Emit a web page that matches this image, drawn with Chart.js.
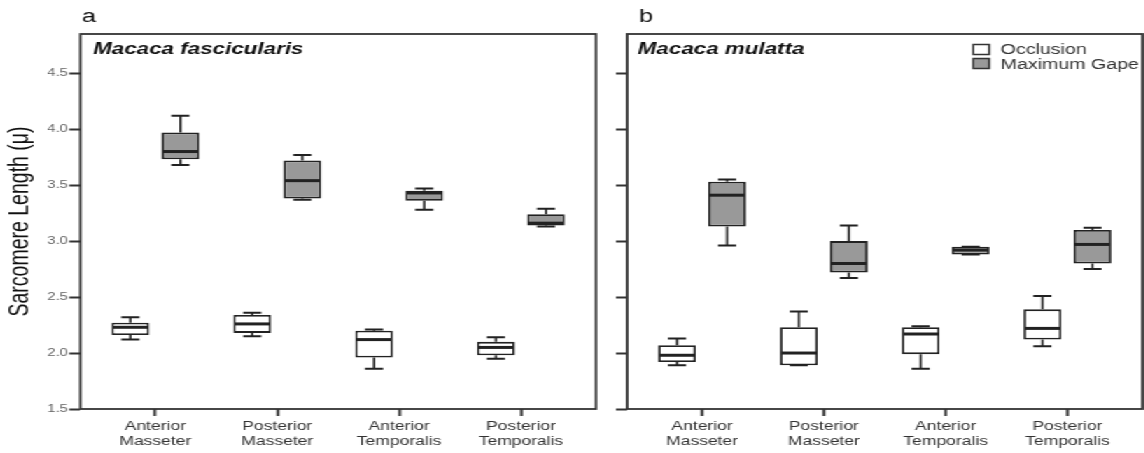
<!DOCTYPE html>
<html>
<head>
<meta charset="utf-8">
<script src="https://cdn.jsdelivr.net/npm/chart.js@4.4.1/dist/chart.umd.min.js"></script>
<style>
html, body { margin:0; padding:0; background:#fff; overflow:hidden; }
/* the source figure is stretched sideways, so draw narrow and scale by 1.4 */
#wrap { position:absolute; left:0; top:0; width:817px; height:453px; display:flex;
        transform:scaleX(1.4); transform-origin:0 0; }
canvas { display:block; }
</style>
</head>
<body>
<div id="wrap">
  <canvas id="chartA" width="436" height="453"></canvas>
  <canvas id="chartB" width="381" height="453"></canvas>
</div>
<script>
const muscles = [['Anterior','Masseter'], ['Posterior','Masseter'], ['Anterior','Temporalis'], ['Posterior','Temporalis']];
const seriesNames = ['Occlusion', 'Maximum Gape'];

// [min, q1, median, q3, max] per muscle
const fascOcclusion = [[2.12,2.16,2.23,2.27,2.32], [2.15,2.18,2.26,2.34,2.36], [1.86,1.96,2.12,2.20,2.21], [1.95,1.98,2.05,2.10,2.14]];
const fascGape      = [[3.68,3.73,3.80,3.97,4.12], [3.37,3.38,3.54,3.72,3.77], [3.28,3.36,3.43,3.45,3.47], [3.13,3.14,3.16,3.24,3.29]];
const mulOcclusion  = [[1.89,1.92,1.98,2.07,2.13], [1.89,1.89,2.00,2.23,2.37], [1.86,1.99,2.17,2.23,2.24], [2.06,2.12,2.22,2.39,2.51]];
const mulGape       = [[2.96,3.13,3.41,3.53,3.55], [2.67,2.72,2.80,3.00,3.14], [2.88,2.88,2.92,2.95,2.95], [2.75,2.80,2.97,3.10,3.12]];

const FONT = "'Liberation Sans', Arial, sans-serif";
const INK = '#222';
const GAPE_FILL = '#999';

const boxPlot = {
  id: 'boxPlot',
  afterDatasetsDraw(chart) {
    const ctx = chart.ctx, y = chart.scales.y;
    ctx.save();
    ctx.strokeStyle = INK;
    chart.data.datasets.forEach((ds, d) => {
      chart.getDatasetMeta(d).data.forEach((bar, i) => {
        const [lo, q1, med, q3, hi] = ds.stats[i];
        const half = bar.width / 2, cap = bar.width * 0.24;
        const yLo = y.getPixelForValue(lo), yHi = y.getPixelForValue(hi);
        ctx.lineWidth = 1.6;
        ctx.beginPath();
        ctx.moveTo(bar.x, y.getPixelForValue(q3)); ctx.lineTo(bar.x, yHi);
        ctx.moveTo(bar.x, y.getPixelForValue(q1)); ctx.lineTo(bar.x, yLo);
        ctx.stroke();
        ctx.lineWidth = 2;
        ctx.beginPath();
        ctx.moveTo(bar.x - cap, yHi); ctx.lineTo(bar.x + cap, yHi);
        ctx.moveTo(bar.x - cap, yLo); ctx.lineTo(bar.x + cap, yLo);
        ctx.stroke();
        ctx.lineWidth = 3;
        const yMed = y.getPixelForValue(med);
        ctx.beginPath();
        ctx.moveTo(bar.x - half + 1, yMed); ctx.lineTo(bar.x + half - 1, yMed);
        ctx.stroke();
      });
    });
    ctx.restore();
  },
  afterDraw(chart, args, opts) {
    const ctx = chart.ctx, a = chart.chartArea;
    ctx.save();
    ctx.strokeStyle = '#333';
    ctx.lineWidth = 1.8;
    ctx.strokeRect(a.left, a.top, a.right - a.left, a.bottom - a.top);

    ctx.fillStyle = '#111';
    ctx.textBaseline = 'alphabetic';
    ctx.font = '18px ' + FONT;
    ctx.fillText(opts.letter, a.left + opts.letterDx, 22);
    ctx.font = 'italic bold 16px ' + FONT;
    ctx.fillText(opts.species, a.left + opts.speciesDx, 54);

    if (opts.legend) {
      const x0 = a.right - 120.8;
      ctx.font = '14px ' + FONT;
      ctx.lineWidth = 1.5;
      [['#fff', 44.5, 53.7], [GAPE_FILL, 58.5, 69.3]].forEach(([fill, top, base], k) => {
        ctx.fillStyle = fill;
        ctx.fillRect(x0, top, 11.4, 10);
        ctx.strokeStyle = '#333';
        ctx.strokeRect(x0, top, 11.4, 10);
        ctx.fillStyle = '#333';
        ctx.fillText(seriesNames[k], x0 + 19.6, base);
      });
    }
    ctx.restore();
  }
};

function makeChart(id, occ, gape, cfg) {
  const toBars = stats => stats.map((s, i) => ({ x: i, y: [s[1], s[3]] }));
  const boxStyle = { borderColor: INK, borderWidth: 1.8, borderSkipped: false,
                     categoryPercentage: 0.822, barPercentage: 0.754 };
  return new Chart(document.getElementById(id), {
    type: 'bar',
    data: {
      datasets: [
        { label: seriesNames[0], data: toBars(occ), stats: occ, backgroundColor: '#fff', ...boxStyle },
        { label: seriesNames[1], data: toBars(gape), stats: gape, backgroundColor: GAPE_FILL, ...boxStyle }
      ]
    },
    options: {
      responsive: false,
      animation: false,
      layout: { padding: { top: 34, right: cfg.padRight, left: 0, bottom: 0 } },
      plugins: {
        legend: { display: false },
        tooltip: { enabled: false },
        boxPlot: cfg.deco
      },
      scales: {
        x: {
          type: 'linear', min: -0.615, max: 3.615, offset: false,
          afterFit: s => { s.height = 44; },
          border: { display: false },
          grid: { offset: false, drawOnChartArea: false, tickLength: 7, tickWidth: 2, tickColor: '#333' },
          ticks: { stepSize: 1, includeBounds: false, autoSkip: false, maxRotation: 0, padding: 3,
                   callback: v => muscles[v], color: '#333', font: { family: FONT, size: 12.5, lineHeight: 1.2 } }
        },
        y: {
          min: 1.5, max: 4.85,
          afterFit: s => { s.width = cfg.yWidth; },
          border: { display: false },
          grid: { drawOnChartArea: false, tickLength: 8, tickWidth: 2, tickColor: '#333' },
          ticks: { stepSize: 0.5, includeBounds: false, padding: 1,
                   callback: v => cfg.yLabels ? v.toFixed(1) : '',
                   color: '#666', font: { family: FONT, size: 10.5 } },
          title: { display: cfg.yLabels, text: 'Sarcomere Length (\u03bc)', color: '#111',
                   padding: { top: 3, bottom: 0 }, font: { family: FONT, size: 19.5 } }
        }
      }
    },
    plugins: [boxPlot]
  });
}

makeChart('chartA', fascOcclusion, fascGape, {
  padRight: 10.3, yWidth: 57.4, yLabels: true,
  deco: { letter: 'a', letterDx: 1.2, species: 'Macaca fascicularis', speciesDx: 9, legend: false }
});
makeChart('chartB', mulOcclusion, mulGape, {
  padRight: 1, yWidth: 12, yLabels: false,
  deco: { letter: 'b', letterDx: 8.4, species: 'Macaca mulatta', speciesDx: 7.5, legend: true }
});
</script>
</body>
</html>
